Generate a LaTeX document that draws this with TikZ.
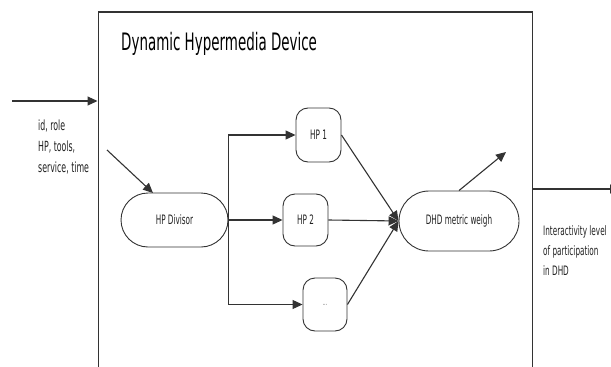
\documentclass[tikz,border=0pt]{standalone}
\usepackage{fontspec}
\setmainfont{DejaVu Sans}
\newfontfamily\narrowfont[FakeStretch=0.56]{DejaVu Sans}
\usetikzlibrary{arrows.meta}
\definecolor{ln}{HTML}{333333}
\definecolor{txt}{HTML}{222222}
\tikzset{
  x=1pt, y=-1pt,
  frame/.style={draw=ln, line width=1.8pt, inner sep=0pt},
  proc/.style={draw=ln, line width=0.9pt, inner sep=0pt, rounded corners=12pt,
    font=\narrowfont\fontsize{13}{13}\selectfont, text=txt},
  stadium/.style={draw=ln, line width=0.9pt, inner sep=0pt,
    font=\narrowfont\fontsize{13}{13}\selectfont, text=txt},
  arr/.style={draw=ln, line width=1.1pt, -{Triangle[length=10pt,width=9pt]}},
  label/.style={font=\narrowfont\fontsize{14}{21}\selectfont, text=txt, align=left, inner sep=0pt},
}
\begin{document}
\begin{tikzpicture}
\clip (0,0) rectangle (611,367);
\useasboundingbox (0,0) rectangle (611,367);
% device frame
\node[frame, anchor=north west, minimum width=434pt, minimum height=370pt] (dev) at (97.5,11) {};
\node[font=\narrowfont\fontsize{24}{24}\selectfont, anchor=base west, inner sep=0pt] (title) at (121,50) {Dynamic Hypermedia Device};
% nodes
\node[stadium, rounded corners=27pt, minimum width=107pt, minimum height=54pt] (hpdiv) at (174.5,220) {HP Divisor};
\node[proc, minimum width=45pt, minimum height=54pt] (hp1) at (318.5,135) {HP 1};
\node[proc, minimum width=45pt, minimum height=52pt] (hp2) at (305.5,220) {HP 2};
\node[proc, minimum width=44pt, minimum height=53pt, text=gray] (hpx) at (325,304.5) {\fontsize{9}{9}\selectfont ...};
\node[stadium, rounded corners=30pt, minimum width=120pt, minimum height=60pt] (dhd) at (459,221) {DHD metric weigh};
% labels
\node[label, anchor=west] (inlabel) at (38,147) {id, role\\HP, tools,\\service, time};
\node[label, font=\narrowfont\fontsize{13}{20}\selectfont, anchor=west] (outlabel) at (543,251) {Interactivity level\\of participation\\in DHD};
% free ends
\coordinate (inS) at (12,101);
\coordinate (diagS) at (107,150);
\coordinate (upE) at (506,152);
\coordinate (outE) at (620,189);
% connectors
\draw[arr] (inS) -- (inS -| dev.west);
\draw[arr] (diagS) -- (153,193);
\draw[arr] (hpdiv.east) -- (hp2.west);
\draw[arr] (hpdiv.east) |- (hp1.west);
\draw[arr] (hpdiv.east) |- (hpx.west);
\draw[arr] (hp1.east) -- (dhd.west);
\draw[arr] (hp2.east) -- (dhd.west);
\draw[arr] (hpx.east) -- (dhd.west);
\draw[arr] (dhd.north) -- (upE);
\draw[arr] (outE -| dev.east) -- (outE);
\end{tikzpicture}
\end{document}
